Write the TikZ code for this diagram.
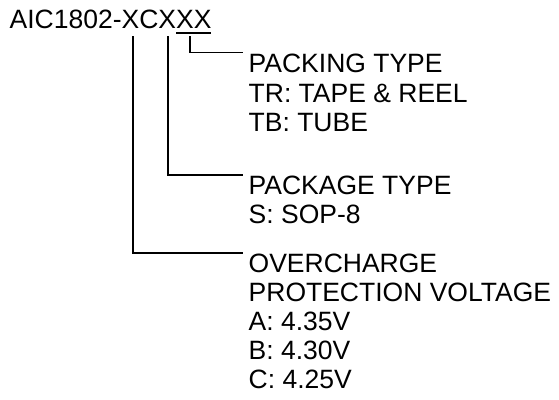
\documentclass[tikz,border=0pt]{standalone}
\usepackage{fontspec}
\setmainfont{Liberation Sans}
\newcommand{\ulxx}[1]{\setbox0\hbox{#1}\rlap{\rule[-5.7pt]{\wd0}{1.4pt}}#1}
\begin{document}
\begin{tikzpicture}[x=1pt,y=-1pt,line width=1.4pt,
  every node/.style={font=\fontsize{26.5}{29}\selectfont,inner sep=0pt},
  lbl/.style={anchor=base west}]
\useasboundingbox (0,0) rectangle (559,399);
% part number
\node[lbl] (part) at (9,28) {AIC1802-XCX\ulxx{XX}};
\coordinate (xvolt) at (133,36);
\coordinate (xpack) at (168,36);
\coordinate (xtype) at (190,36);
% packing type
\node[lbl] (packing) at (248,72) {PACKING TYPE};
\node[lbl] (tr) at (248,102) {TR: TAPE \& REEL};
\node[lbl] (tb) at (248,131) {TB: TUBE};
% package type
\node[lbl] (package) at (248,194) {PACKAGE TYPE};
\node[lbl] (sop) at (248,223) {S: SOP-8};
% voltage
\node[lbl] (over) at (248,272) {OVERCHARGE};
\node[lbl] (prot) at (248,301) {PROTECTION VOLTAGE};
\node[lbl] (va) at (248,330) {A: 4.35V};
\node[lbl] (vb) at (248,359) {B: 4.30V};
\node[lbl] (vc) at (248,388) {C: 4.25V};
\draw (xtype) |- ([xshift=-5pt]packing.north west);
\draw (xpack) |- ([xshift=-5pt]package.north west);
\draw (xvolt) |- ([xshift=-5pt]over.north west);
\end{tikzpicture}
\end{document}
